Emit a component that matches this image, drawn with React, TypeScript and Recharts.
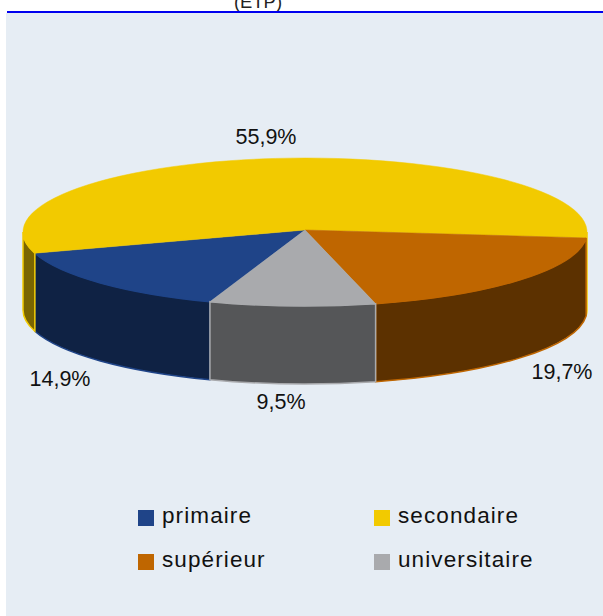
import React from 'react';
import { PieChart, Pie, Legend } from 'recharts';

const categories = ['primaire', 'secondaire', 'supérieur', 'universitaire'];
const values = [14.9, 55.9, 19.7, 9.5];
const topColors = ['#1F4488', '#F2CA00', '#BF6600', '#A9AAAD'];
const wallColors = ['#0F2244', '#7A6500', '#5C3100', '#555658'];
const labelSpots = [
  { x: 60, y: 386 },
  { x: 266, y: 144 },
  { x: 562, y: 379 },
  { x: 281, y: 409 },
];
const legendSpots = [
  { x: 138, y: 510 },
  { x: 374, y: 510 },
  { x: 138, y: 554 },
  { x: 374, y: 554 },
];

const chartData = categories.map((name, i) => ({ name, value: values[i], fill: topColors[i], wall: wallColors[i] }));

const RX = 282;
const RY = 74;
const DEPTH = 78;
const APEX_LIFT = 2;
const FONT = '"Liberation Sans", Arial, sans-serif';

const rad = (a: number) => (a * Math.PI) / 180;

// the pie is flattened by hand: recharts gives the angles, we squash them to an ellipse
function Slice3D(props: any) {
  const { cx, cy, startAngle, endAngle, fill, wall } = props;
  const px = (a: number) => cx + RX * Math.cos(rad(a));
  const py = (a: number) => cy - RY * Math.sin(rad(a));
  const hi = Math.max(startAngle, endAngle);
  const lo = Math.min(startAngle, endAngle);

  // only the part of the rim facing the viewer gets a wall
  const walls: string[] = [];
  for (let k = -2; k <= 2; k++) {
    const a = Math.min(hi, 360 * k);
    const b = Math.max(lo, 360 * k - 180);
    if (a > b) {
      walls.push(
        `M${px(a)},${py(a)} A${RX},${RY} 0 0 1 ${px(b)},${py(b)} L${px(b)},${py(b) + DEPTH} ` +
          `A${RX},${RY} 0 0 0 ${px(a)},${py(a) + DEPTH} Z`
      );
    }
  }

  // split the top so that no arc goes over 180 degrees
  const mid = (hi + lo) / 2;
  const top =
    `M${cx},${cy - APEX_LIFT} L${px(hi)},${py(hi)} A${RX},${RY} 0 0 1 ${px(mid)},${py(mid)} ` +
    `A${RX},${RY} 0 0 1 ${px(lo)},${py(lo)} Z`;

  return (
    <g>
      {walls.map((d, i) => (
        <path key={i} d={d} fill={wall} stroke={fill} strokeWidth={1.5} />
      ))}
      <path d={top} fill={fill} stroke={fill} strokeWidth={0.5} />
    </g>
  );
}

function renderLabel(props: any) {
  const spot = labelSpots[props.index];
  return (
    <text x={spot.x} y={spot.y} textAnchor="middle" fontFamily={FONT} fontSize={21.5} fill="#111">
      {values[props.index].toFixed(1).replace('.', ',')}%
    </text>
  );
}

function renderLegend(props: any) {
  const items = props.payload || [];
  return (
    <div style={{ position: 'relative', width: 603, height: 616 }}>
      {items.map((item: any, i: number) => (
        <div key={item.value} style={{ position: 'absolute', left: legendSpots[i].x, top: legendSpots[i].y }}>
          <div style={{ width: 16, height: 16, background: topColors[i] }} />
          <div
            style={{
              position: 'absolute',
              left: 24,
              top: -7,
              fontFamily: FONT,
              fontSize: 22.5,
              letterSpacing: 1.1,
              lineHeight: '26px',
              color: '#111',
              whiteSpace: 'nowrap',
            }}
          >
            {item.value}
          </div>
        </div>
      ))}
    </div>
  );
}

export default function App() {
  return (
    <div style={{ position: 'absolute', left: 0, top: 0, width: 603, height: 616, overflow: 'hidden', background: '#fff' }}>
      <div style={{ position: 'absolute', left: 6, top: 13, width: 597, height: 603, background: '#E6EDF4' }} />
      <div
        style={{
          position: 'absolute',
          left: 158,
          width: 200,
          top: -8,
          textAlign: 'center',
          fontFamily: FONT,
          fontSize: 18.4,
          lineHeight: '20px',
          color: '#222',
        }}
      >
        (ETP)
      </div>
      <div style={{ position: 'absolute', left: 7, top: 11, width: 596, height: 2, background: '#0000EE' }} />
      <div style={{ position: 'absolute', left: 0, top: 0 }}>
        <PieChart width={603} height={616} margin={{ top: 0, right: 0, bottom: 0, left: 0 }}>
          <Pie
            data={chartData}
            dataKey="value"
            nameKey="name"
            cx={305}
            cy={232}
            innerRadius={0}
            outerRadius={RX}
            startAngle={-109.7}
            endAngle={-469.7}
            stroke="none"
            isAnimationActive={false}
            shape={Slice3D}
            label={renderLabel}
            labelLine={false}
          />
          <Legend content={renderLegend} wrapperStyle={{ left: 0, top: 0, width: 603, height: 616 }} />
        </PieChart>
      </div>
    </div>
  );
}
